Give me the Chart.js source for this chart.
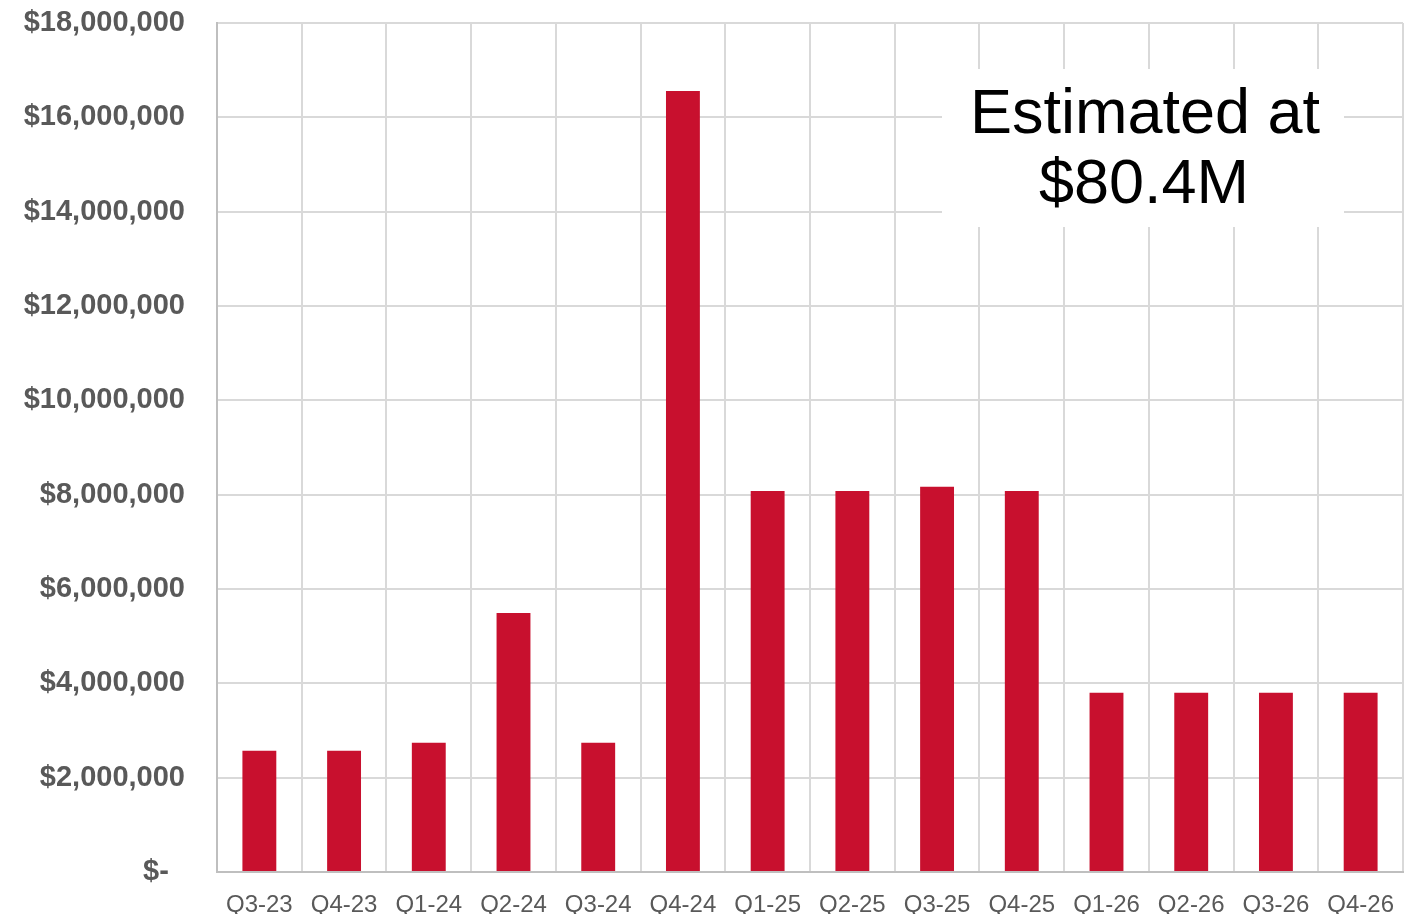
<!DOCTYPE html>
<html>
<head>
<meta charset="utf-8">
<script src="https://cdn.jsdelivr.net/npm/chart.js@4/dist/chart.umd.min.js"></script>
<style>
  html, body { margin: 0; padding: 0; background: #fff; }
  #wrap { width: 1414px; height: 914px; }
</style>
</head>
<body>
<div id="wrap"><canvas id="chart"></canvas></div>
<script>
// quarters and amounts
const quarters = ['Q3-23', 'Q4-23', 'Q1-24', 'Q2-24', 'Q3-24', 'Q4-24', 'Q1-25',
                  'Q2-25', 'Q3-25', 'Q4-25', 'Q1-26', 'Q2-26', 'Q3-26', 'Q4-26'];
const amounts = [2570000, 2570000, 2740000, 5490000, 2740000, 16560000, 8080000,
                 8080000, 8170000, 8080000, 3800000, 3800000, 3800000, 3800000];
const noteLines = ['Estimated at', '$80.4M'];

const fontFamily = '"Liberation Sans", Arial, sans-serif';

// white box with the estimate text, drawn over the grid
const notePlugin = {
    id: 'note',
    afterDatasetsDraw(chart) {
        const ctx = chart.ctx;
        ctx.save();
        ctx.fillStyle = '#ffffff';
        ctx.fillRect(942, 69, 402, 158);
        ctx.fillStyle = '#000000';
        ctx.font = '63px ' + fontFamily;
        ctx.textAlign = 'center';
        ctx.textBaseline = 'alphabetic';
        ctx.fillText(noteLines[0], 1145, 133);
        ctx.fillText(noteLines[1], 1144, 203);
        ctx.restore();
    }
};

const ctx = document.getElementById('chart').getContext('2d');
new Chart(ctx, {
    type: 'bar',
    data: {
        labels: quarters,
        datasets: [{
            data: amounts,
            backgroundColor: '#C8102E',
            categoryPercentage: 1,
            barPercentage: 0.4
        }]
    },
    options: {
        responsive: true,
        maintainAspectRatio: false,
        animation: false,
        layout: { padding: { top: 23, right: 11, left: 0, bottom: 0 } },
        plugins: {
            legend: { display: false },
            tooltip: { enabled: false }
        },
        scales: {
            x: {
                grid: { color: '#d9d9d9', lineWidth: 2, drawTicks: false },
                border: { color: '#bfbfbf', width: 2 },
                ticks: {
                    color: '#595959',
                    font: { family: fontFamily, size: 24 },
                    padding: 19,
                    maxRotation: 0
                },
                afterFit(scale) {
                    scale.height = 42;
                    scale.paddingLeft = 0;
                    scale.paddingRight = 0;
                }
            },
            y: {
                min: 0,
                max: 18000000,
                grid: { color: '#d9d9d9', lineWidth: 2, drawTicks: false },
                border: { color: '#bfbfbf', width: 2 },
                ticks: {
                    stepSize: 2000000,
                    color: '#595959',
                    font: { family: fontFamily, size: 29, weight: 'bold' },
                    padding: 32,
                    callback: function(value) {
                        if (value === 0) return '$-  ';
                        return '$' + value.toLocaleString('en-US');
                    }
                },
                afterFit(scale) {
                    scale.width = 217;
                    scale.paddingTop = 0;
                    scale.paddingBottom = 0;
                }
            }
        }
    },
    plugins: [notePlugin]
});
</script>
</body>
</html>
